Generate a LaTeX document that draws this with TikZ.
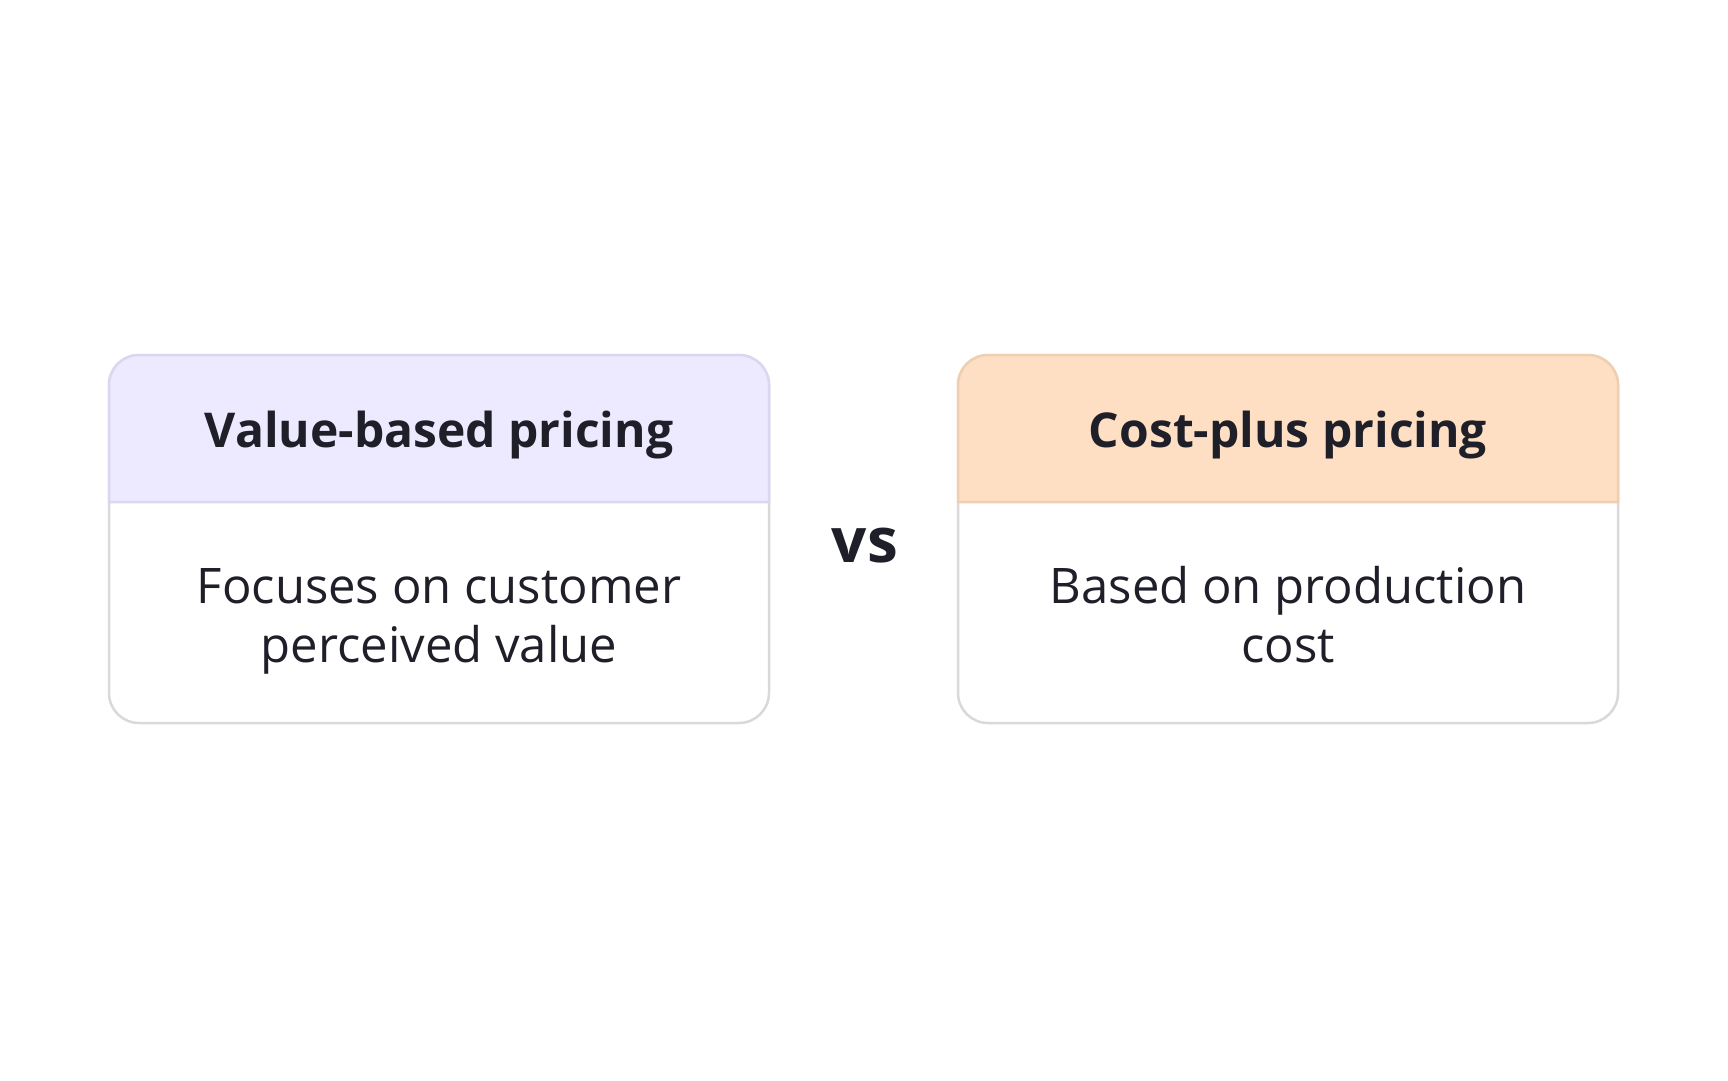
\documentclass[tikz,border=0pt]{standalone}
\usepackage{fontspec}
\setmainfont{Open Sans}
\definecolor{lavfill}{HTML}{EDE9FE}
\definecolor{lavline}{HTML}{DCD7F0}
\definecolor{orfill}{HTML}{FEDFC3}
\definecolor{orline}{HTML}{F0CFB0}
\definecolor{bodyline}{HTML}{D9D9D9}
\definecolor{ink}{HTML}{1F1F29}
\tikzset{
  bodybox/.style={draw=bodyline, fill=white, line width=2.5pt, rounded corners=30pt},
  headtext/.style={text=ink, font=\fontsize{48}{58}\selectfont\bfseries, align=center},
  bodytext/.style={text=ink, font=\fontsize{49}{59}\selectfont, align=center},
}
\begin{document}
\begin{tikzpicture}[x=1pt,y=-1pt]
\useasboundingbox[fill=white] (0,0) rectangle (1728,1080);
% left card
\path[bodybox] (109,355) rectangle (769,723);
\path[draw=lavline, fill=lavfill, line width=2.5pt] (109,502) [rounded corners=30pt]-- (109,355) -- (769,355) [sharp corners]-- (769,502) -- cycle;
\node[headtext, anchor=base] (lh) at (439,447) {Value-based pricing};
\node[bodytext] (lb) at (439,621) {\strut Focuses on customer\strut\\\strut perceived value\strut};
% right card
\path[bodybox] (958,355) rectangle (1618,723);
\path[draw=orline, fill=orfill, line width=2.5pt] (958,502) [rounded corners=30pt]-- (958,355) -- (1618,355) [sharp corners]-- (1618,502) -- cycle;
\node[headtext, anchor=base] (rh) at (1288,447) {Cost-plus pricing};
\node[bodytext] (rb) at (1288,621) {\strut Based on production\strut\\\strut cost\strut};
% vs
\node[text=ink, font=\fontsize{62}{64}\selectfont\bfseries, anchor=base] (vs) at (865,562) {vs};
\end{tikzpicture}
\end{document}
